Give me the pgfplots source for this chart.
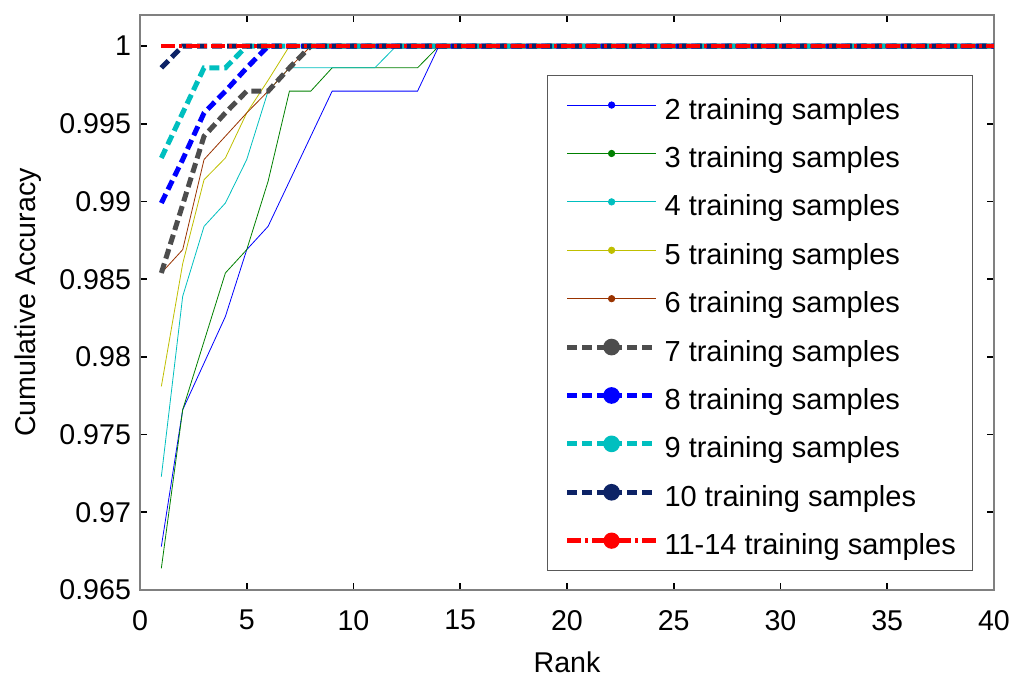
\documentclass[border=0pt]{standalone}
\usepackage{fontspec}
\setmainfont{Liberation Sans}
\usepackage{pgfplots}
\pgfplotsset{compat=1.18}
\definecolor{c2}{RGB}{0,0,255}
\definecolor{c3}{RGB}{0,128,0}
\definecolor{c4}{RGB}{0,191,191}
\definecolor{c5}{RGB}{191,191,0}
\definecolor{c6}{RGB}{153,51,0}
\definecolor{c7}{RGB}{77,77,77}
\definecolor{c8}{RGB}{0,0,255}
\definecolor{c9}{RGB}{0,191,191}
\definecolor{c10}{RGB}{13,35,102}
\definecolor{c11}{RGB}{255,0,0}
\newcommand{\fs}{\fontsize{14.3}{17}\selectfont}
\newcommand{\fl}{\fontsize{14.5}{17}\selectfont}
\pgfplotsset{
  legthin/.style={legend image code/.code={%
    \draw[##1] (0pt,0pt) -- (44.5pt,0pt);
    \fill[##1,solid] (22.25pt,0pt) circle (1.6pt);}},
  legthick/.style={legend image code/.code={%
    \draw[##1] (0pt,0pt) -- (44.5pt,0pt);
    \fill[##1,solid] (22.25pt,0pt) circle (2.9pt);}},
}
\begin{document}
\begin{tikzpicture}
\useasboundingbox (-70pt,-50.5pt) rectangle (442pt,295pt);
\begin{axis}[
  scale only axis, width=427pt, height=287.5pt,
  xmin=0, xmax=40, ymin=0.965, ymax=1.002,
  xtick={0,5,...,40},
  ytick={0.965,0.97,0.975,0.98,0.985,0.99,0.995,1},
  yticklabels={0.965,0.97,0.975,0.98,0.985,0.99,0.995,1},
  /pgf/number format/assume math mode=true,
  tick align=inside, major tick length=3.5pt,
  tick style={black, line width=0.9pt},
  axis line style={black!50, line width=0.6pt},
  tick label style={font=\fs},
  xticklabel style={yshift=-6.6pt},
  yticklabel style={xshift=-1pt},
  xlabel={Rank}, ylabel={Cumulative Accuracy},
  every axis x label/.style={at={(axis description cs:0.5,0)}, anchor=center, yshift=-36pt, font=\fs},
  every axis y label/.style={at={(axis description cs:0,0.5)}, xshift=-56pt, rotate=90, anchor=center, font=\fs},
  legend cell align=left,
  legend style={at={(rel axis cs:0.4766,0.8957)}, anchor=north west, draw=black!65, line width=0.6pt, fill=white, font=\fl, inner xsep=8.5pt, inner ysep=7.75pt, row sep=10.2pt, nodes={inner sep=0pt, text height=14pt, text depth=0pt}, /tikz/every odd column/.append style={column sep=3pt}},
]
\addplot[color=c2, line width=0.4pt, legthin] coordinates {(1,0.9678)(2,0.9766)(3,0.9796)(4,0.9826)(5,0.9869)(6,0.9884)(7,0.9913)(8,0.9942)(9,0.9971)(10,0.9971)(11,0.9971)(12,0.9971)(13,0.9971)(14,1)(40,1)};
\addlegendentry{2 training samples}
\addplot[color=c3, line width=0.4pt, legthin] coordinates {(1,0.9664)(2,0.9766)(3,0.9810)(4,0.9854)(5,0.9869)(6,0.9913)(7,0.9971)(8,0.9971)(9,0.9986)(10,0.9986)(11,0.9986)(12,0.9986)(13,0.9986)(14,1)(40,1)};
\addlegendentry{3 training samples}
\addplot[color=c4, line width=0.4pt, legthin] coordinates {(1,0.9723)(2,0.9839)(3,0.9884)(4,0.9899)(5,0.9927)(6,0.9971)(7,0.9986)(8,0.9986)(9,0.9986)(10,0.9986)(11,0.9986)(12,1)(40,1)};
\addlegendentry{4 training samples}
\addplot[color=c5, line width=0.4pt, legthin] coordinates {(1,0.9781)(2,0.9860)(3,0.9914)(4,0.9928)(5,0.9957)(6,0.9978)(7,1)(40,1)};
\addlegendentry{5 training samples}
\addplot[color=c6, line width=0.4pt, legthin] coordinates {(1,0.9854)(2,0.9869)(3,0.9927)(4,0.9942)(5,0.9957)(6,0.9971)(7,0.9986)(8,1)(40,1)};
\addlegendentry{6 training samples}
\addplot[color=c7, line width=2.5pt, dash pattern=on 5pt off 2.5pt, legthick] coordinates {(1,0.9854)(2,0.9898)(3,0.9942)(4,0.9957)(5,0.9971)(6,0.9971)(7,0.9986)(8,1)(40,1)};
\addlegendentry{7 training samples}
\addplot[color=c8, line width=2.5pt, dash pattern=on 5pt off 2.5pt, legthick] coordinates {(1,0.9899)(2,0.9927)(3,0.9957)(4,0.9971)(5,0.9986)(6,1)(40,1)};
\addlegendentry{8 training samples}
\addplot[color=c9, line width=2.5pt, dash pattern=on 5pt off 2.5pt, legthick] coordinates {(1,0.9928)(2,0.9957)(3,0.9986)(4,0.9986)(5,1)(40,1)};
\addlegendentry{9 training samples}
\addplot[color=c10, line width=2.5pt, dash pattern=on 5pt off 2.5pt, legthick] coordinates {(1,0.9986)(2,1)(40,1)};
\addlegendentry{10 training samples}
\addplot[color=c11, line width=2.3pt, dash pattern=on 7pt off 2pt on 1.5pt off 2pt, legthick] coordinates {(1,1)(40,1)};
\addlegendentry{11-14 training samples}
\end{axis}
\end{tikzpicture}
\end{document}
